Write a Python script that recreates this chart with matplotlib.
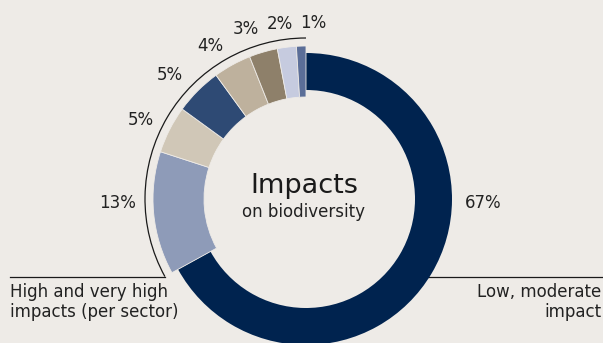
import numpy as np
import matplotlib.pyplot as plt
from matplotlib.patches import Arc

# Impact shares, clockwise from the top
labels = ['67%', '13%', '5%', '5%', '4%', '3%', '2%', '1%']
shares = [67, 13, 5, 5, 4, 3, 2, 1]
colors = ['#00234F', '#8E9BB8', '#D0C7B7', '#2E4A74', '#BEB19D', '#8E806A', '#C6CBDF', '#5B6E98']

center_title = 'Impacts'
center_sub = 'on biodiversity'
left_caption = 'High and very high\nimpacts (per sector)'
right_caption = 'Low, moderate\nimpact'

bg = '#EEEBE7'
W, H = 603, 343

plt.rcParams['font.family'] = ['DejaVu Sans']

fig = plt.figure(figsize=(W / 100, H / 100), dpi=100, facecolor=bg)
ax = fig.add_axes([0, 0, 1, 1])
ax.set_facecolor(bg)

# work in pixel units, y going up
cx, cy = 306, H - 199

wedges, _ = ax.pie(shares, colors=colors, startangle=90, counterclock=False,
                   radius=153, center=(cx, cy),
                   wedgeprops=dict(width=51, edgecolor=bg, linewidth=0.6))
# the "low, moderate" ring is thinner than the sector ring
wedges[0].set_radius(146)
wedges[0].set_width(37)
wedges[0].set_edgecolor('none')

ax.set_xlim(0, W)
ax.set_ylim(0, H)
ax.set_aspect('equal')
ax.axis('off')

# bracket around the sector slices
end_ang = 90 - shares[0] / sum(shares) * 360 + 360
r_arc = 161
ax.add_patch(Arc((cx, cy), 2 * r_arc, 2 * r_arc, theta1=90, theta2=end_ang,
                 color='#1a1a1a', lw=0.9))
ex = cx + r_arc * np.cos(np.radians(end_ang))
ey = cy + r_arc * np.sin(np.radians(end_ang))
ax.plot([10, ex], [ey, ey], color='#1a1a1a', lw=0.9)
ax.plot([420, W], [ey, ey], color='#1a1a1a', lw=0.9, zorder=0)

# percentage labels (pixel positions)
label_pos = [(483, 203), (118, 203), (141, 120), (170, 75), (210, 46), (246, 29), (280, 24), (313, 23)]
for lab, (x, y) in zip(labels, label_pos):
    ax.text(x, H - y, lab, ha='center', va='center', fontsize=12, color='#222222')

ax.text(cx - 2, H - 186, center_title, ha='center', va='center', fontsize=19.5, color='#1a1a1a')
ax.text(cx - 2, H - 212, center_sub, ha='center', va='center', fontsize=12, color='#222222')

ax.text(10, H - 283, left_caption, ha='left', va='top', fontsize=12,
        color='#222222', linespacing=1.15)
ax.text(601, H - 283, right_caption, ha='right', va='top', fontsize=12,
        color='#222222', linespacing=1.15)

fig.savefig('out.png', dpi=100, facecolor=bg)
